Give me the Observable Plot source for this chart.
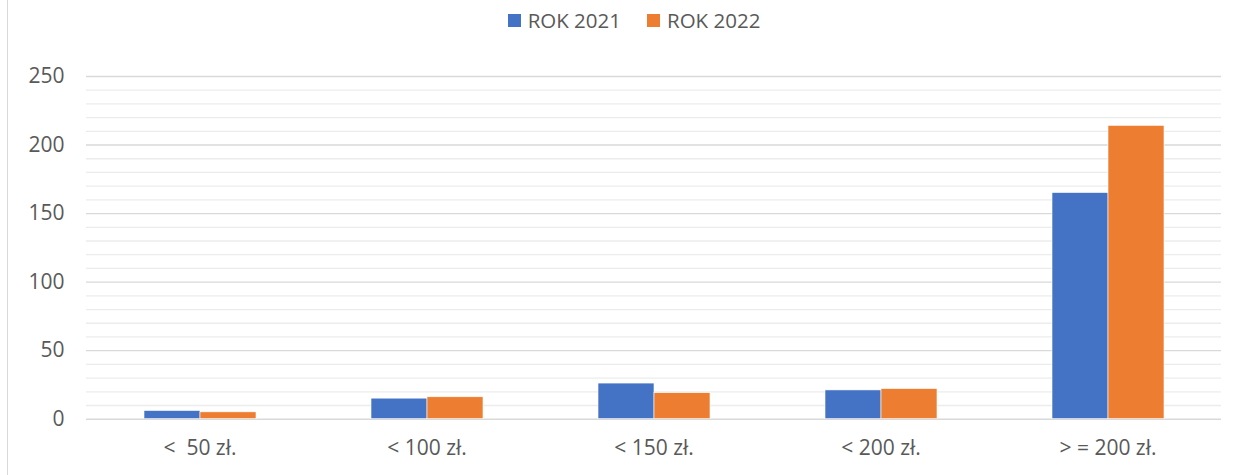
<!DOCTYPE html>
<html>
<head>
<meta charset="utf-8">
<script src="https://cdn.jsdelivr.net/npm/d3@7"></script>
<script src="https://cdn.jsdelivr.net/npm/@observablehq/plot@0.6"></script>
<style>
  html, body { margin: 0; padding: 0; background: #fff; }
  body { width: 1248px; height: 475px; position: relative; overflow: hidden; font-family: "Open Sans", sans-serif; }
  #border { position: absolute; left: 7px; top: 0; width: 1px; height: 475px; background: #d9d9d9; }
  #legend { height: 40px; display: flex; justify-content: center; align-items: center; padding-left: 20px; box-sizing: border-box; color: #595959; font-size: 20.5px; }
  .item { display: flex; align-items: center; margin: 0 13px; }
  .sw { width: 13px; height: 13px; margin-right: 7px; }
  svg text { white-space: pre; }
</style>
</head>
<body>
<div id="border"></div>
<div id="legend"></div>
<div id="chart"></div>
<script>
const categories = ["<  50 zł.", "< 100 zł.", "< 150 zł.", "< 200 zł.", "> = 200 zł."];
const series = ["ROK 2021", "ROK 2022"];
const values2021 = [6, 15, 26, 21, 165];
const values2022 = [5, 16, 19, 22, 214];
const colors = ["#4472C4", "#ED7D31"];
const majorTicks = [0, 50, 100, 150, 200, 250];
const minorTicks = [10, 20, 30, 40, 60, 70, 80, 90, 110, 120, 130, 140, 160, 170, 180, 190, 210, 220, 230, 240];

const data = [];
categories.forEach((c, i) => {
  data.push({category: c, series: series[0], value: values2021[i]});
  data.push({category: c, series: series[1], value: values2022[i]});
});

const legend = document.getElementById("legend");
series.forEach((s, i) => {
  const it = document.createElement("div");
  it.className = "item";
  it.innerHTML = `<div class="sw" style="background:${colors[i]}"></div><span>${s}</span>`;
  legend.appendChild(it);
});

const chart = Plot.plot({
  width: 1248,
  height: 435,
  marginLeft: 84,
  marginRight: 25.25,
  marginTop: 36,
  marginBottom: 56.3,
  style: {fontFamily: "Open Sans", fontSize: "21px", color: "#595959", background: "transparent"},
  fx: {domain: categories, padding: 0, label: null, tickSize: 0, tickPadding: 21},
  x: {domain: series, paddingInner: 0, paddingOuter: 1, axis: null},
  y: {domain: [0, 250], label: null, ticks: majorTicks, tickSize: 0, tickPadding: 22},
  color: {domain: series, range: colors},
  marks: [
    Plot.ruleY(minorTicks, {stroke: "#ececec", strokeWidth: 1.3}),
    Plot.ruleY(majorTicks, {stroke: "#d9d9d9", strokeWidth: 1.4}),
    Plot.barY(data, {fx: "category", x: "series", y: "value", fill: "series", stroke: "white", strokeWidth: 0.6})
  ]
});
document.getElementById("chart").appendChild(chart);
</script>
</body>
</html>
